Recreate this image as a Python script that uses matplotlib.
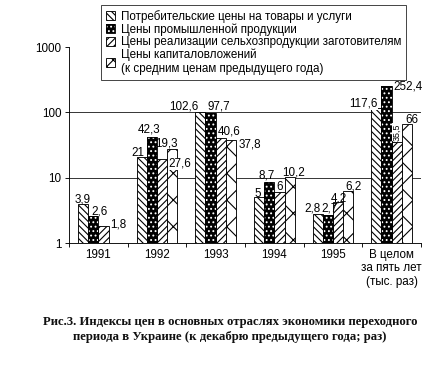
import numpy as np
import matplotlib
matplotlib.use("Agg")
import matplotlib.pyplot as plt
from matplotlib.patches import Patch
from matplotlib.legend_handler import HandlerTuple

plt.rcParams['font.family'] = ['Liberation Sans', 'DejaVu Sans']
plt.rcParams['hatch.linewidth'] = 1.0

categories = ['1991', '1992', '1993', '1994', '1995', 'В целом\nза пять лет\n(тыс. раз)']
series_names = ['Потребительские цены на товары и услуги',
                'Цены промышленной продукции',
                'Цены реализации сельхозпродукции заготовителям',
                'Цены капиталовложений\n(к средним ценам предыдущего года)']
consumer = [3.9, 21, 102.6, 5, 2.8, 117.6]
industrial = [2.6, 42.3, 97.7, 8.7, 2.7, 252.4]
agri = [1.8, 19.3, 40.6, 6, 4.2, 35.5]
capital = [np.nan, 27.6, 37.8, 10.2, 6.2, 66]
yticks = [1, 10, 100, 1000]

series = [consumer, industrial, agri, capital]

# label offsets in pixels (dx, dy) relative to bar top centre, layout only
offsets = [
    [(0, 2), (-3.5, 1), (-16.5, 2), (-1, 0), (-5.5, 2), (-12.5, 1)],
    [(6, 1), (-2.5, 4), (8.5, 3.5), (-2.5, 3), (1.5, 3), (21, -3)],
    [(15, -1), (4, 13), (8, 3), (0, 2), (1, 0.5), (0, 1)],
    [(0, 0), (7.5, -18), (19, -7.5), (4, 2), (4.7, 1.5), (5, 1.5)],
]
white_bg = {(3, 1), (3, 2), (2, 5), (0, 5), (1, 5)}

FS = 10.5
fig = plt.figure(figsize=(439 / 80, 365 / 80), dpi=80)
ax = fig.add_axes([69 / 439, 1 - 243 / 365, (421 - 69) / 439, (243 - 47) / 365])

x = np.arange(len(categories))
w = 0.174
hatches = ['\\\\\\\\', '...', '////', 'x']
legend_hatches = ['\\\\\\\\', '...', '////', 'xx']

handles = []
for j, vals in enumerate(series):
    pos = x + (j - 1.5) * w
    v = np.array(vals, dtype=float)
    if j == 1:
        ax.bar(pos, v, w, bottom=0, facecolor='black', edgecolor='white',
               hatch=hatches[j], linewidth=0, zorder=2)
        ax.bar(pos, v, w, fill=False, edgecolor='black', linewidth=0.8, zorder=3)
        h = (Patch(facecolor='black', edgecolor='white', hatch=legend_hatches[j], linewidth=0),
             Patch(fill=False, edgecolor='black', linewidth=0.8))
    else:
        ax.bar(pos, v, w, facecolor='white', edgecolor='black',
               hatch=hatches[j], linewidth=0.8, zorder=2)
        h = Patch(facecolor='white', edgecolor='black', hatch=legend_hatches[j], linewidth=0.8)
    handles.append(h)
    for k, val in enumerate(vals):
        if np.isnan(val):
            continue
        txt = ('%g' % val).replace('.', ',')
        dx, dy = offsets[j][k]
        kw = {}
        if (j, k) in white_bg:
            kw['bbox'] = dict(facecolor='white', edgecolor='none', pad=0.3)
        rot = 0
        fs = FS
        if j == 2 and k == 5:
            rot = 90
            fs = 8
            kw['bbox'] = dict(facecolor='white', edgecolor='none', pad=0.5)
        ax.annotate(txt, xy=(pos[k], val), xytext=(dx, dy), textcoords='offset pixels',
                    ha='center', va='baseline' if rot == 0 else 'bottom',
                    rotation=rot, fontsize=fs, zorder=5, **kw)

ax.set_yscale('log')
ax.set_ylim(yticks[0], yticks[-1])
ax.set_xlim(-0.5, len(categories) - 0.5)
ax.set_yticks(yticks)
ax.set_yticklabels([str(t) for t in yticks])
ax.yaxis.set_minor_locator(matplotlib.ticker.NullLocator())
for t in yticks[1:-1]:
    ax.axhline(t, color='#222222', linewidth=0.8, zorder=1)

ax.set_xticks(np.arange(len(categories) + 1) - 0.5)
ax.set_xticklabels([''] * (len(categories) + 1))
ax.set_xticks(x, minor=True)
ax.set_xticklabels(categories, minor=True, fontsize=FS, linespacing=1.2)
ax.tick_params(axis='x', which='minor', length=0, pad=5)
ax.tick_params(axis='x', which='major', length=4, width=0.8, direction='out')
ax.tick_params(axis='y', which='major', length=4, width=0.8, labelsize=FS, pad=3)

for s in ['top', 'right']:
    ax.spines[s].set_visible(False)
for s in ['left', 'bottom']:
    ax.spines[s].set_linewidth(0.8)

leg = fig.legend(handles, series_names, loc='upper left',
                 bbox_to_anchor=(101 / 439, 1 - 5 / 365), bbox_transform=fig.transFigure,
                 fontsize=FS, frameon=True, fancybox=False, shadow=False,
                 handlelength=0.8, handleheight=0.8, handletextpad=0.5,
                 labelspacing=0.05, borderpad=0.4, borderaxespad=0,
                 handler_map={tuple: HandlerTuple(ndivide=1, pad=0)})
leg.get_frame().set_edgecolor('black')
leg.get_frame().set_linewidth(0.8)

fig.text(0.524, 0.098,
         'Рис.3. Индексы цен в основных отраслях экономики переходного\n'
         'периода в Украине (к декабрю предыдущего года; раз)',
         ha='center', va='center', fontsize=11.5, fontweight='bold',
         family=['Liberation Serif', 'DejaVu Serif'], color='#111111', linespacing=1.3)

fig.savefig('out.png', dpi=80)
